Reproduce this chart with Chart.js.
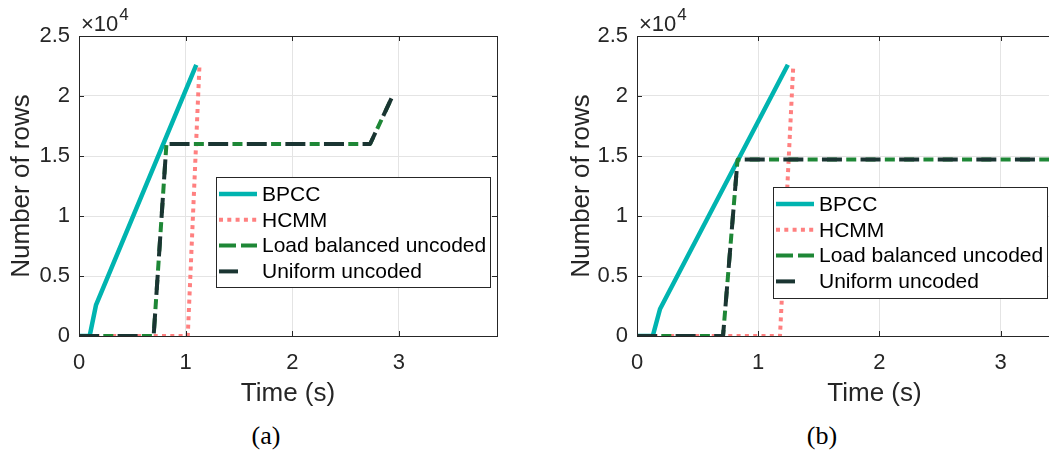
<!DOCTYPE html>
<html>
<head>
<meta charset="utf-8">
<script src="https://cdn.jsdelivr.net/npm/chart.js"></script>
<style>
  body { margin: 0; background: #fff; }
  #wrap { position: relative; width: 1049px; height: 455px; overflow: hidden; }
  canvas { position: absolute; top: 0; }
  .cap { position: absolute; top: 421px; font: 26px "Liberation Serif", serif; color: #000; width: 60px; text-align: center; }
</style>
</head>
<body>
<div id="wrap">
  <canvas id="chartA" width="525" height="410" style="left:0"></canvas>
  <canvas id="chartB" width="580" height="410" style="left:560px"></canvas>
  <div class="cap" style="left:236px">(a)</div>
  <div class="cap" style="left:792px">(b)</div>
</div>
<script>
// panel (a)
const bpccTimeA = [0, 0.10, 0.16, 1.10];
const bpccRowsA = [0, 0, 2600, 22600];
const hcmmTimeA = [0, 1.02, 1.13];
const hcmmRowsA = [0, 0, 22600];
const lbTimeA = [0, 0.70, 0.82, 2.73, 2.93];
const lbRowsA = [0, 0, 16000, 16000, 19800];
const uniTimeA = [0, 0.70, 0.82, 2.73, 2.93];
const uniRowsA = [0, 0, 16000, 16000, 19800];

// panel (b)
const bpccTimeB = [0, 0.13, 0.19, 1.245];
const bpccRowsB = [0, 0, 2250, 22600];
const hcmmTimeB = [0, 1.18, 1.29];
const hcmmRowsB = [0, 0, 22600];
const lbTimeB = [0, 0.71, 0.83, 3.92];
const lbRowsB = [0, 0, 14700, 14700];
const uniTimeB = [0, 0.71, 0.83, 3.92];
const uniRowsB = [0, 0, 14700, 14700];

const seriesNames = ['BPCC', 'HCMM', 'Load balanced uncoded', 'Uniform uncoded'];
const yTicks = [0, 5000, 10000, 15000, 20000, 25000];
const xTicks = [0, 1, 2, 3];

const axisColor = '#262626';
const font = '"Liberation Sans", Arial, sans-serif';

function pts(t, r) {
  return t.map((v, i) => ({x: v, y: r[i]}));
}

// line looks, in dataset order
const styles = [
  {color: '#00b4b0', width: 4.5, dash: [], offset: 0, legendDash: []},
  {color: '#ff8080', width: 4, dash: [4, 4.3], offset: 0, legendDash: [4, 4.3]},
  {color: '#1e8736', width: 4, dash: [10, 9.3], offset: 14.3, legendDash: [17, 5]},
  {color: '#1a3532', width: 4, dash: [20, 18.6], offset: 0, legendDash: [19, 30]}
];

const boxPlugin = {
  id: 'matlabBox',
  afterDraw(chart, args, opts) {
    const {ctx, chartArea: a, scales: {x, y}} = chart;
    ctx.save();
    ctx.strokeStyle = axisColor;
    ctx.lineWidth = 1;
    ctx.setLineDash([]);
    ctx.strokeRect(a.left + 0.5, a.top + 0.5, a.right - a.left, a.bottom - a.top);
    ctx.beginPath();
    x.ticks.forEach(t => {
      const px = Math.round(x.getPixelForValue(t.value)) + 0.5;
      ctx.moveTo(px, a.bottom); ctx.lineTo(px, a.bottom - 5);
      ctx.moveTo(px, a.top); ctx.lineTo(px, a.top + 5);
    });
    y.ticks.forEach(t => {
      const py = Math.round(y.getPixelForValue(t.value)) + 0.5;
      ctx.moveTo(a.left, py); ctx.lineTo(a.left + 5, py);
      ctx.moveTo(a.right, py); ctx.lineTo(a.right - 5, py);
    });
    ctx.stroke();

    // exponent label
    ctx.fillStyle = axisColor;
    ctx.textBaseline = 'alphabetic';
    ctx.textAlign = 'left';
    ctx.font = '22px ' + font;
    ctx.fillText('\u00d710', a.left + 2, a.top - 5);
    const w = ctx.measureText('\u00d710').width;
    ctx.font = '17px ' + font;
    ctx.fillText('4', a.left + 3 + w, a.top - 16);

    // legend box
    const L = opts.box;
    ctx.fillStyle = '#fff';
    ctx.fillRect(L.x, L.y, L.w, L.h);
    ctx.strokeStyle = axisColor;
    ctx.strokeRect(L.x + 0.5, L.y + 0.5, L.w, L.h);
    chart.data.datasets.forEach((ds, i) => {
      const s = styles[i];
      const cy = L.y + 17 + i * 25.8;
      ctx.beginPath();
      ctx.strokeStyle = s.color;
      ctx.lineWidth = s.width;
      ctx.lineCap = 'butt';
      ctx.setLineDash(s.legendDash);
      ctx.moveTo(L.x + 3, cy);
      ctx.lineTo(L.x + 41, cy);
      ctx.stroke();
      ctx.setLineDash([]);
      ctx.fillStyle = '#000';
      ctx.font = '21px ' + font;
      ctx.textBaseline = 'middle';
      ctx.fillText(ds.label, L.x + 46, cy + 1);
    });
    ctx.restore();
  }
};

function makeChart(id, series, yWidth, legendBox) {
  const datasets = series.map((d, i) => ({
    label: seriesNames[i],
    data: d,
    borderColor: styles[i].color,
    borderWidth: styles[i].width,
    borderDash: styles[i].dash,
    borderDashOffset: styles[i].offset,
    borderCapStyle: 'butt',
    borderJoinStyle: 'round',
    pointRadius: 0,
    tension: 0,
    fill: false,
    order: 4 - i
  }));
  return new Chart(document.getElementById(id), {
    type: 'line',
    data: {datasets},
    plugins: [boxPlugin],
    options: {
      responsive: false,
      animation: false,
      devicePixelRatio: 1,
      layout: {padding: {top: 36, right: 28, left: 0, bottom: 0}},
      plugins: {
        legend: {display: false},
        tooltip: {enabled: false},
        matlabBox: {box: legendBox}
      },
      scales: {
        x: {
          type: 'linear',
          min: 0,
          max: 3.92,
          afterBuildTicks: s => { s.ticks = xTicks.map(v => ({value: v})); },
          afterFit: s => { s.height = 74; },
          ticks: {includeBounds: false, padding: 14, color: axisColor, font: {family: font, size: 22}},
          grid: {color: '#e4e4e4', drawTicks: false},
          border: {display: false},
          title: {display: true, text: 'Time (s)', color: axisColor, font: {family: font, size: 26}, padding: {top: 0, bottom: 1}}
        },
        y: {
          min: 0,
          max: 25000,
          afterBuildTicks: s => { s.ticks = yTicks.map(v => ({value: v})); },
          afterFit: s => { s.width = yWidth; },
          ticks: {padding: 9, color: axisColor, font: {family: font, size: 22}, callback: v => String(v / 10000)},
          grid: {color: '#e4e4e4', drawTicks: false},
          border: {display: false},
          title: {display: true, text: 'Number of rows', color: axisColor, font: {family: font, size: 26}, padding: {top: 6, bottom: 0}}
        }
      }
    }
  });
}

makeChart('chartA', [
  pts(bpccTimeA, bpccRowsA),
  pts(hcmmTimeA, hcmmRowsA),
  pts(lbTimeA, lbRowsA),
  pts(uniTimeA, uniRowsA)
], 79, {x: 216, y: 177, w: 274, h: 110});

makeChart('chartB', [
  pts(bpccTimeB, bpccRowsB),
  pts(hcmmTimeB, hcmmRowsB),
  pts(lbTimeB, lbRowsB),
  pts(uniTimeB, uniRowsB)
], 77, {x: 213, y: 187, w: 274, h: 111});
</script>
</body>
</html>
